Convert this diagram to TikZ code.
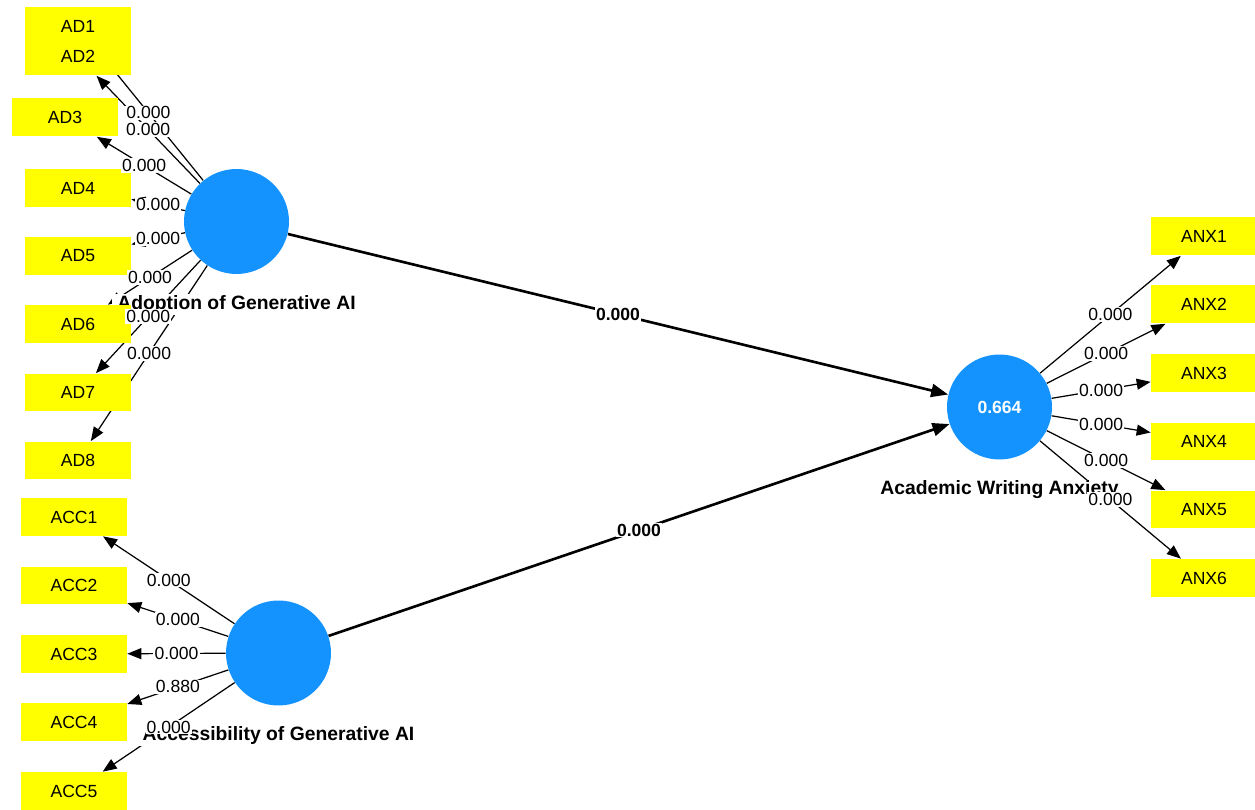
\documentclass[tikz,border=0pt]{standalone}
\usepackage{fontspec}
\setmainfont{Liberation Sans}
\usetikzlibrary{arrows.meta,backgrounds}

\definecolor{lvblue}{RGB}{20,147,255}
\definecolor{mvyellow}{RGB}{255,255,0}

\begin{document}
\begin{tikzpicture}[
    x=0.02cm, y=-0.02cm,
    every node/.style={font=\fontsize{10}{12}\selectfont},
    latent/.style={circle, fill=lvblue, minimum size=2.1cm, inner sep=0pt,
        text=white, font=\fontsize{10}{12}\selectfont\bfseries},
    lvname/.style={fill=white, inner ysep=0.6pt, inner xsep=3pt,
        font=\fontsize{11}{13}\selectfont\bfseries},
    item/.style={rectangle, fill=mvyellow, minimum width=2.12cm,
        minimum height=0.76cm, inner sep=0pt},
    load/.style={line width=0.7pt, -{Triangle[length=2.8mm,width=2.2mm]}},
    struct/.style={line width=1.5pt, -{Triangle[length=3.4mm,width=2.6mm]}},
    lbl/.style={midway, fill=white, inner sep=0.6pt},
    blbl/.style={lbl, font=\fontsize{10}{12}\selectfont\bfseries}
]

\useasboundingbox (0,0) rectangle (1255,810);

% Latent variables
\node[latent] (adopt)   at (236.5,221.5) {};
\node[latent] (access)  at (278.5,653)   {};
\node[latent] (anxiety) at (999.5,407)   {0.664};

\node[lvname] (adoptname)   at (236.5,304.5) {Adoption of Generative AI};
\node[lvname] (accessname)  at (278.5,736)   {Accessibility of Generative AI};
\node[lvname] (anxietyname) at (999.5,490)   {Academic Writing Anxiety};

% Indicators (Adoption)
\node[item] (ad1) at (78,26)    {AD1};
\node[item] (ad2) at (78,56.5)  {AD2};
\node[item] (ad3) at (65,117.5) {AD3};
\node[item] (ad4) at (78,188)   {AD4};
\node[item] (ad5) at (78,256)   {AD5};
\node[item] (ad6) at (78,324)   {AD6};
\node[item] (ad7) at (78,392.5) {AD7};
\node[item] (ad8) at (78,460.5) {AD8};

% Indicators (Accessibility)
\node[item] (acc1) at (74,517)   {ACC1};
\node[item] (acc2) at (74,585.5) {ACC2};
\node[item] (acc3) at (74,654)   {ACC3};
\node[item] (acc4) at (74,722)   {ACC4};
\node[item] (acc5) at (74,791)   {ACC5};

% Indicators (Anxiety)
\node[item] (anx1) at (1204,236.5) {ANX1};
\node[item] (anx2) at (1204,304.5) {ANX2};
\node[item] (anx3) at (1204,373)   {ANX3};
\node[item] (anx4) at (1204,441.5) {ANX4};
\node[item] (anx5) at (1204,509.5) {ANX5};
\node[item] (anx6) at (1204,578)   {ANX6};

% Arrows go under the boxes
\begin{scope}[on background layer]
\foreach \i in {1,...,8} \draw[load] (adopt) -- (ad\i);
\foreach \i in {1,...,5} \draw[load] (access) -- (acc\i);
\foreach \i in {1,...,6} \draw[load] (anxiety) -- (anx\i);
\draw[struct] (adopt) -- (anxiety);
\draw[struct] (access) -- (anxiety);
\end{scope}

% p-values on top
\foreach \i in {8,7,...,1}
    \path (adopt) -- (ad\i) node[lbl] (pad\i) {0.000};
\path (access) -- (acc1) node[lbl] (pacc1) {0.000};
\path (access) -- (acc2) node[lbl] (pacc2) {0.000};
\path (access) -- (acc3) node[lbl] (pacc3) {0.000};
\path (access) -- (acc4) node[lbl] (pacc4) {0.880};
\path (access) -- (acc5) node[lbl] (pacc5) {0.000};
\foreach \i in {1,...,6}
    \path (anxiety) -- (anx\i) node[lbl] (panx\i) {0.000};

\path (adopt) -- (anxiety) node[blbl] (padopt) {0.000};
\path (access) -- (anxiety) node[blbl] (paccess) {0.000};

\end{tikzpicture}
\end{document}
